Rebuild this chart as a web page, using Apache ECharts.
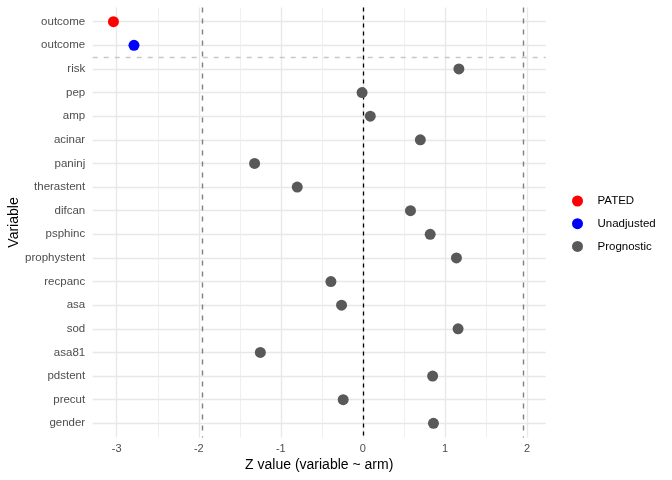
<!DOCTYPE html>
<html>
<head>
<meta charset="utf-8">
<script src="https://cdn.jsdelivr.net/npm/echarts@6/dist/echarts.min.js"></script>
<style>
	html, body { margin: 0; padding: 0; background: #fff; }
	#chart { width: 672px; height: 480px; }
</style>
</head>
<body>
<div id="chart"></div>
<script>
// rows from top to bottom
var varLabels = ['outcome', 'outcome', 'risk', 'pep', 'amp', 'acinar', 'paninj', 'therastent', 'difcan',
	'psphinc', 'prophystent', 'recpanc', 'asa', 'sod', 'asa81', 'pdstent', 'precut', 'gender'];
var zValues = [-3.04, -2.79, 1.17, -0.01, 0.09, 0.70, -1.32, -0.80, 0.58,
	0.82, 1.14, -0.39, -0.26, 1.16, -1.25, 0.85, -0.24, 0.86];
var groups = ['PATED', 'Unadjusted', 'Prognostic', 'Prognostic', 'Prognostic', 'Prognostic', 'Prognostic', 'Prognostic', 'Prognostic',
	'Prognostic', 'Prognostic', 'Prognostic', 'Prognostic', 'Prognostic', 'Prognostic', 'Prognostic', 'Prognostic', 'Prognostic'];
var groupNames = ['PATED', 'Unadjusted', 'Prognostic'];
var groupColors = ['#ff0000', '#0000ff', '#595959'];
var xTicks = [-3, -2, -1, 0, 1, 2];
var xMinor = [-2.5, -1.5, -0.5, 0.5, 1.5];
var refLines = [-1.96, 1.96];

var rowIdx = varLabels.map(function(d, i) { return i; });

function lineData(list, axis) {
	return list.map(function(v) {
		var o = {};
		o[axis] = v;
		return o;
	});
}

var series = groupNames.map(function(g, k) {
	var pts = [];
	for (var i = 0; i < zValues.length; i++) {
		if (groups[i] == g) pts.push([zValues[i], i]);
	}
	return {
		name : g,
		type : 'scatter',
		symbolSize : 11,
		itemStyle : { color : groupColors[k], opacity : 1 },
		data : pts,
		z : 5
	};
});

// grid lines, ggplot style (drawn as markLines)
series.push({
	type : 'scatter',
	data : [],
	silent : true,
	z : 1,
	markLine : {
		symbol : 'none',
		silent : true,
		label : { show : false },
		animation : false,
		lineStyle : { color : '#e8e8e8', width : 1.4, type : 'solid' },
		data : lineData(xTicks, 'xAxis').concat(lineData(rowIdx, 'yAxis'))
	}
});
series.push({
	type : 'scatter',
	data : [],
	silent : true,
	z : 1,
	markLine : {
		symbol : 'none',
		silent : true,
		label : { show : false },
		animation : false,
		lineStyle : { color : '#ebebeb', width : 0.8, type : 'solid' },
		data : lineData(xMinor, 'xAxis')
	}
});
// reference lines
series.push({
	type : 'scatter',
	data : [],
	silent : true,
	z : 2,
	markLine : {
		symbol : 'none',
		silent : true,
		label : { show : false },
		animation : false,
		data : [
			{ xAxis : 0, lineStyle : { color : '#000', width : 1.3, type : [4, 4] } },
			{ xAxis : refLines[0], lineStyle : { color : '#808080', width : 1.4, type : [5, 6] } },
			{ xAxis : refLines[1], lineStyle : { color : '#808080', width : 1.4, type : [5, 6] } },
			{ yAxis : 1.5, lineStyle : { color : '#c8c8c8', width : 1.3, type : [5, 6] } }
		]
	}
});

var option = {
	animation : false,
	backgroundColor : '#fff',
	textStyle : { fontFamily : 'Liberation Sans, Arial, sans-serif' },
	grid : { left : 92.7, right : 126.3, top : 7.5, bottom : 42.5, outerBoundsMode : 'none', containLabel : false },
	legend : {
		data : groupNames,
		orient : 'vertical',
		left : 567,
		top : 190,
		icon : 'circle',
		itemWidth : 30,
		itemHeight : 11,
		itemGap : 10.7,
		textStyle : { fontSize : 11.5, color : '#000' }
	},
	xAxis : {
		type : 'value',
		min : -3.293,
		max : 2.228,
		name : 'Z value (variable ~ arm)',
		nameLocation : 'middle',
		nameGap : 21,
		nameMoveOverlap : false,
		nameTextStyle : { fontSize : 14, color : '#000' },
		axisLine : { show : false },
		axisTick : { show : false },
		splitLine : { show : false },
		axisLabel : {
			customValues : xTicks,
			color : '#4d4d4d',
			fontSize : 11,
			margin : 6
		}
	},
	yAxis : {
		type : 'value',
		inverse : true,
		min : -0.6,
		max : 17.6,
		name : 'Variable',
		nameLocation : 'middle',
		nameGap : 72,
		nameRotate : 90,
		nameMoveOverlap : false,
		nameTextStyle : { fontSize : 14, color : '#000' },
		axisLine : { show : false },
		axisTick : { show : false },
		splitLine : { show : false },
		axisLabel : {
			customValues : rowIdx,
			color : '#4d4d4d',
			fontSize : 11.5,
			margin : 7.5,
			formatter : function(v) { return varLabels[Math.round(v)]; }
		}
	},
	series : series
};

var myChart = echarts.init(document.getElementById('chart'));
myChart.setOption(option, true);
</script>
</body>
</html>
